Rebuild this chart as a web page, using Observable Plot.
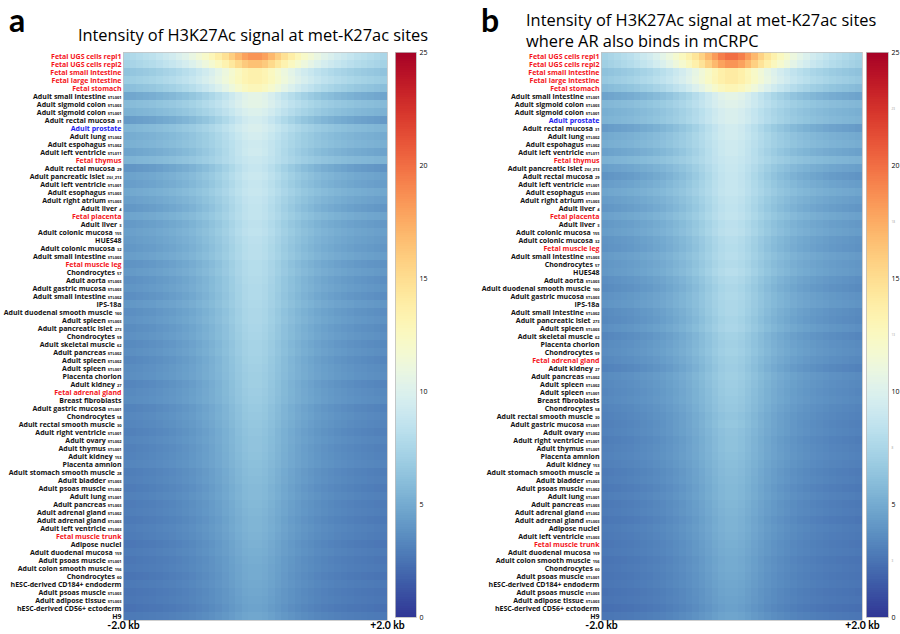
<!DOCTYPE html>
<html><head><meta charset="utf-8">
<script src="https://cdn.jsdelivr.net/npm/d3@7"></script>
<script src="https://cdn.jsdelivr.net/npm/@observablehq/plot@0.6"></script>
<style>
body{margin:0;background:#fff;}
#root{position:relative;width:900px;height:634px;overflow:hidden;background:#fff;}
.abs{position:absolute;top:0;}
</style></head><body><div id="root"></div>
<script>
// Row labels ("name|suffix"), top to bottom
const leftLabels = [
"Fetal UGS cells repl1|","Fetal UGS cells repl2|","Fetal small intestine|","Fetal large intestine|","Fetal stomach|",
"Adult small intestine|STL001","Adult sigmoid colon|STL003","Adult sigmoid colon|STL001","Adult rectal mucosa|31","Adult prostate|",
"Adult lung|STL002","Adult espohagus|STL002","Adult left ventricle|STL011","Fetal thymus|","Adult rectal mucosa|29",
"Adult pancreatic islet|ZGI_213","Adult left ventricle|STL001","Adult esophagus|STL003","Adult right atrium|STL003","Adult liver|4",
"Fetal placenta|","Adult liver|3","Adult colonic mucosa|155","HUES48|","Adult colonic mucosa|32",
"Adult small intestine|STL003","Fetal muscle leg|","Chondrocytes|57","Adult aorta|STL003","Adult gastric mucosa|STL003",
"Adult small intestine|STL002","IPS-18a|","Adult duodenal smooth muscle|160","Adult spleen|STL003","Adult pancreatic islet|273",
"Chondrocytes|59","Adult skeletal muscle|62","Adult pancreas|STL002","Adult spleen|STL002","Adult spleen|STL001",
"Placenta chorion|","Adult kidney|27","Fetal adrenal gland|","Breast fibroblasts|","Adult gastric mucosa|STL001",
"Chondrocytes|58","Adult rectal smooth muscle|30","Adult right ventricle|STL001","Adult ovary|STL002","Adult thymus|STL001",
"Adult kidney|153","Placenta amnion|","Adult stomach smooth muscle|28","Adult bladder|STL003","Adult psoas muscle|STL002",
"Adult lung|STL001","Adult pancreas|STL003","Adult adrenal gland|STL002","Adult adrenal gland|STL003","Adult left ventricle|STL003",
"Fetal muscle trunk|","Adipose nuclei|","Adult duodenal mucosa|159","Adult psoas muscle|STL001","Adult colon smooth muscle|156",
"Chondrocytes|60","hESC-derived CD184+ endoderm|","Adult psoas muscle|STL003","Adult adipose tissue|STL003","hESC-derived CD56+ ectoderm|",
"H9|"];
const leftCenter = [18.5,16.5,13.5,13.5,12.8,10.5,10.5,10.0,9.5,9.8,9.5,9.2,9.3,9.0,8.8,9.0,8.8,8.9,8.7,8.6,8.6,8.4,8.5,8.3,8.2,8.2,8.0,8.0,7.9,7.8,7.8,7.7,7.6,7.6,7.5,7.4,7.3,7.3,7.2,7.1,7.0,7.0,6.9,6.8,6.7,6.6,6.5,6.4,6.3,6.3,6.2,6.1,6.0,5.9,5.8,5.8,5.7,5.6,5.5,5.5,5.4,5.3,5.2,5.1,5.0,5.0,4.9,4.8,4.7,4.6,4.8];
const leftFlank = [7.5,7.2,6.3,6.8,6.0,4.7,5.8,5.3,4.2,5.5,5.0,5.2,4.6,5.4,3.9,4.5,4.3,4.8,4.4,4.0,4.6,4.1,4.4,4.2,4.0,4.3,3.8,4.1,3.7,3.9,3.6,4.0,3.6,3.8,3.5,3.7,3.4,3.6,3.3,3.5,3.6,3.2,3.4,3.5,3.1,3.3,3.2,3.0,3.2,3.0,3.1,3.2,2.9,3.0,2.8,3.0,2.8,2.9,2.7,2.9,2.8,2.6,2.8,2.6,2.7,2.5,2.7,2.5,2.6,2.4,2.7];

const rightLabels = [
"Fetal UGS cells repl1|","Fetal UGS cells repl2|","Fetal small intestine|","Fetal large intestine|","Fetal stomach|",
"Adult small intestine|STL001","Adult sigmoid colon|STL003","Adult sigmoid colon|STL001","Adult prostate|","Adult rectal mucosa|31",
"Adult lung|STL002","Adult espohagus|STL002","Adult left ventricle|STL011","Fetal thymus|","Adult pancreatic islet|ZGI_213",
"Adult rectal mucosa|29","Adult left ventricle|STL001","Adult esophagus|STL003","Adult right atrium|STL003","Adult liver|4",
"Fetal placenta|","Adult liver|3","Adult colonic mucosa|155","Adult colonic mucosa|32","Fetal muscle leg|",
"Adult small intestine|STL003","Chondrocytes|57","HUES48|","Adult aorta|STL003","Adult duodenal smooth muscle|160",
"Adult gastric mucosa|STL003","IPS-18a|","Adult small intestine|STL002","Adult pancreatic islet|273","Adult spleen|STL003",
"Adult skeletal muscle|62","Placenta chorion|","Chondrocytes|59","Fetal adrenal gland|","Adult kidney|27",
"Adult pancreas|STL002","Adult spleen|STL002","Adult spleen|STL001","Breast fibroblasts|","Chondrocytes|58",
"Adult rectal smooth muscle|30","Adult gastric mucosa|STL001","Adult ovary|STL002","Adult right ventricle|STL001","Adult thymus|STL001",
"Placenta amnion|","Adult kidney|153","Adult stomach smooth muscle|28","Adult bladder|STL003","Adult psoas muscle|STL002",
"Adult lung|STL001","Adult pancreas|STL003","Adult adrenal gland|STL002","Adult adrenal gland|STL003","Adipose nuclei|",
"Adult left ventricle|STL003","Fetal muscle trunk|","Adult duodenal mucosa|159","Adult colon smooth muscle|156","Chondrocytes|60",
"Adult psoas muscle|STL001","hESC-derived CD184+ endoderm|","Adult psoas muscle|STL003","Adult adipose tissue|STL003","hESC-derived CD56+ ectoderm|",
"H9|"];
const rightCenter = [20.0,18.5,14.0,14.0,13.0,10.5,10.2,9.8,9.8,9.4,9.4,9.2,9.2,9.0,8.9,8.8,8.8,8.8,8.6,8.5,8.6,8.3,8.4,8.1,8.0,8.1,7.9,8.1,7.8,7.6,7.7,7.6,7.6,7.4,7.5,7.2,7.1,7.2,7.0,6.9,7.0,6.9,6.8,6.7,6.6,6.4,6.5,6.3,6.2,6.2,6.1,6.0,5.9,5.8,5.7,5.7,5.6,5.5,5.4,5.4,5.3,5.2,5.1,5.0,5.0,4.9,4.8,4.7,4.6,4.5,4.7];
const rightFlank = [7.2,7.0,6.2,6.6,5.8,4.6,5.6,5.2,5.4,4.2,4.9,5.1,4.5,5.3,4.4,3.9,4.3,4.7,4.3,4.0,4.5,4.1,4.3,3.9,3.8,4.2,4.0,4.1,3.7,3.5,3.8,3.9,3.5,3.4,3.7,3.3,3.5,3.6,3.4,3.1,3.5,3.4,3.3,3.4,3.2,3.1,3.0,3.1,2.9,3.0,3.1,3.0,2.8,2.9,2.7,2.9,2.7,2.8,2.6,2.8,2.7,2.6,2.7,2.5,2.6,2.5,2.6,2.4,2.5,2.3,2.6];

// Relative signal profile vs distance from site centre (0.05 .. 1.95 kb, step 0.1)
const profile = [1.0,0.95,0.86,0.76,0.66,0.57,0.49,0.42,0.36,0.30,0.25,0.21,0.17,0.14,0.11,0.08,0.06,0.04,0.02,0.0];

const xTicks = [-2, 2];
const xTickLabels = ["-2.0 kb", "+2.0 kb"];
const colorTicks = [0, 5, 10, 15, 20, 25];
const minorTicks = [2.5, 7.5, 12.5, 17.5, 22.5];
const colorDomain = [0, 25];

const FONT = "'Open Sans', Lato, sans-serif";
const FONT2 = "Lato, 'Open Sans', sans-serif";
const colorScale = {type: "linear", scheme: "RdYlBu", reverse: true, domain: colorDomain};

function buildCells(labels, center, flank) {
  const out = [];
  labels.forEach((lab, i) => {
    for (let j = 0; j < 40; j++) {
      const xc = -1.95 + j * 0.1;
      const k = Math.min(19, Math.round((Math.abs(xc) - 0.05) / 0.1));
      out.push({row: lab, x1: -2 + j * 0.1, x2: -2 + (j + 1) * 0.1, v: flank[i] + (center[i] - flank[i]) * profile[k]});
    }
  });
  return out;
}

function heatmap(labels, center, flank, marginLeft, innerW) {
  const svg = Plot.plot({
    width: marginLeft + innerW + 3, height: 634,
    marginTop: 52, marginBottom: 14, marginLeft, marginRight: 3,
    x: {domain: [-2, 2]},
    y: {domain: labels, padding: 0},
    color: colorScale,
    style: {background: "transparent", overflow: "visible", fontFamily: FONT},
    marks: [
      Plot.barX(buildCells(labels, center, flank), {x1: "x1", x2: "x2", y: "row", fill: "v", shapeRendering: "crispEdges"}),
      Plot.frame({stroke: "#c4c4c4", strokeWidth: 0.8}),
      Plot.axisY({tickSize: 0, tickPadding: 2, fontSize: 7, fontWeight: "bold", label: null, tickFormat: d => d}),
      Plot.axisX({ticks: xTicks, tickSize: 0, tickPadding: 1.3, fontSize: 10.4, fontWeight: "bold", fontFamily: FONT2, label: null,
                  tickFormat: d => xTickLabels[xTicks.indexOf(d)]})
    ]
  });
  svg.querySelectorAll('[aria-label="y-axis tick label"] text').forEach(t => {
    const raw = t.textContent;
    if (!raw.includes("|")) return;
    const [name, suffix] = raw.split("|");
    t.textContent = "";
    const ns = "http://www.w3.org/2000/svg";
    const a = document.createElementNS(ns, "tspan");
    a.textContent = name;
    t.appendChild(a);
    if (suffix) {
      const b = document.createElementNS(ns, "tspan");
      b.textContent = suffix;
      b.setAttribute("font-size", "4");
      b.setAttribute("dx", "2");
      t.appendChild(b);
    }
    let col = "#111";
    if (name.startsWith("Fetal")) col = "#f5141a";
    if (name === "Adult prostate") col = "#1a1af0";
    t.setAttribute("fill", col);
  });
  return svg;
}

function colorbar(withMinor) {
  const marks = [
    Plot.barY(d3.range(0, 25, 0.1), {y1: d => d, y2: d => d + 0.1, fill: d => d + 0.05, shapeRendering: "crispEdges"}),
    Plot.frame({stroke: "#bdbdbd", strokeWidth: 0.8}),
    Plot.axisY({anchor: "right", ticks: colorTicks, tickSize: 0, tickPadding: 3, fontSize: 7, label: null})
  ];
  if (withMinor) marks.push(Plot.axisY({anchor: "right", ticks: minorTicks, tickSize: 0, tickPadding: 3, fontSize: 3, fill: "#999", label: null}));
  return Plot.plot({
    width: withMinor ? 49 : 56, height: 634,
    marginTop: 52, marginBottom: 17, marginLeft: 15, marginRight: withMinor ? 12 : 20,
    y: {domain: colorDomain},
    color: colorScale,
    style: {background: "transparent", overflow: "visible", fontFamily: FONT},
    marks
  });
}

const root = document.getElementById("root");
function place(el, left) { el.classList.add("abs"); el.style.left = left + "px"; root.appendChild(el); }

place(heatmap(leftLabels, leftCenter, leftFlank, 123, 264), 0);
place(colorbar(false), 380);
place(heatmap(rightLabels, rightCenter, rightFlank, 131, 261), 470);
place(colorbar(true), 851);

// Titles and panel letters
const ns = "http://www.w3.org/2000/svg";
const over = document.createElementNS(ns, "svg");
over.setAttribute("width", 900); over.setAttribute("height", 60);
over.setAttribute("style", "position:absolute;left:0;top:0;pointer-events:none;font-family:" + FONT);
function txt(x, y, s, size, weight, anchor, family) {
  const t = document.createElementNS(ns, "text");
  t.setAttribute("x", x); t.setAttribute("y", y);
  t.setAttribute("font-size", size); t.setAttribute("font-weight", weight);
  t.setAttribute("text-anchor", anchor); t.setAttribute("fill", "#000");
  if (family) t.setAttribute("font-family", family);
  t.textContent = s; over.appendChild(t);
}
txt(9, 32, "a", 32, "bold", "start", FONT2);
txt(481, 32, "b", 32, "bold", "start", FONT2);
txt(253, 41, "Intensity of H3K27Ac signal at met-K27ac sites", 16.4, "normal", "middle");
txt(526, 26, "Intensity of H3K27Ac signal at met-K27ac sites", 16.4, "normal", "start");
txt(526, 47, "where AR also binds in mCRPC", 16.4, "normal", "start");
root.appendChild(over);
</script></body></html>
